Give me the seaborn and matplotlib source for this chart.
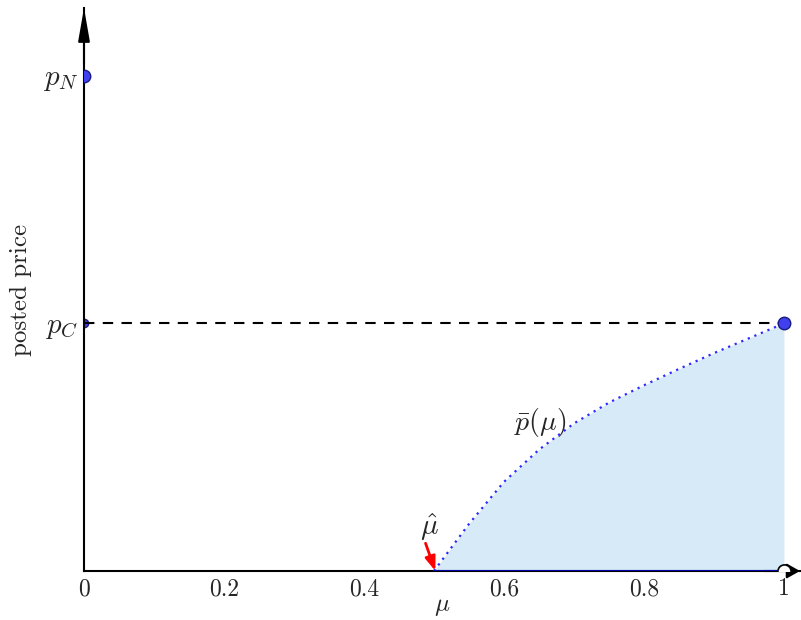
import matplotlib
matplotlib.use("Agg")
import matplotlib.pyplot as plt
import seaborn as sns
import pandas as pd

# --- datos ---
mu_curve = [0.50, 0.55, 0.60, 0.65, 0.70, 0.75, 0.80, 0.85, 0.90, 0.95, 1.00]
p_curve = [0.0, 0.095, 0.18, 0.245, 0.298, 0.34, 0.375, 0.408, 0.44, 0.47, 0.50]
p_N = 1.0
p_C = 0.5
mu_hat = 0.5
x_ticks = [0, 0.2, 0.4, 0.6, 0.8, 1]
x_ticklabels = ["0", "0.2", "0.4", "0.6", "0.8", "1"]

curve = pd.DataFrame({"mu": mu_curve, "p": p_curve})

sns.set_style("white")
plt.rcParams["font.family"] = ["cmr10", "DejaVu Serif"]
plt.rcParams["mathtext.fontset"] = "cm"
plt.rcParams["axes.formatter.use_mathtext"] = True

fig = plt.figure(figsize=(8.01, 6.2), dpi=100)
ax = fig.add_axes([84 / 801, 49 / 620, 716 / 801, 563 / 620])

# zona sombreada bajo la curva
ax.fill_between(curve["mu"], 0, curve["p"], color="#d6eaf7", lw=0, zorder=1)

# curva p-bar (punteada)
sns.lineplot(data=curve, x="mu", y="p", ax=ax, color="#2b2bff", lw=1.6,
             linestyle=(0, (1, 2.2)), zorder=3)

# linea discontinua en p_C
ax.plot([0, 1], [p_C, p_C], color="black", lw=1.5, ls=(0, (5, 4)), zorder=2)

# tramo azul sobre el eje
ax.plot([mu_hat, 1], [0, 0], color="#0000aa", lw=2.2, zorder=4)

# puntos (recortados en el borde de los ejes)
ax.plot([0], [p_C], "o", ms=6, color="#4040ee", mec="#1a1a80", mew=1,
        zorder=1.5, clip_on=True)
ax.plot([0, 1], [p_N, p_C], "o", ms=9, color="#4040ee", mec="#1a1a80",
        mew=1, ls="none", zorder=5, clip_on=True)
ax.plot([1], [0], "o", ms=9.5, mfc="white", mec="black", mew=1.2,
        zorder=6, clip_on=True)

# flecha roja mu-hat
ax.annotate("", xy=(mu_hat + 0.002, 0.0), xytext=(0.488, 0.056),
            arrowprops=dict(arrowstyle="-|>,head_length=0.6,head_width=0.22",
                            color="red", lw=2, mutation_scale=14,
                            shrinkA=0, shrinkB=0),
            zorder=7)
ax.text(0.494, 0.056, r"$\hat{\mu}$", fontsize=21, ha="center", va="bottom")
ax.text(0.652, 0.30, r"$\bar{p}(\mu)$", fontsize=20, ha="center", va="center")

ax.set_xlim(0, 1.023)
ax.set_ylim(0, 1.137)

ax.set_xticks(x_ticks)
ax.set_xticklabels(x_ticklabels, fontsize=17)
ax.set_yticks([p_C, p_N])
ax.set_yticklabels([r"$p_C$", r"$p_N$"], fontsize=21)
ax.tick_params(axis="x", direction="in", length=5, width=0.8, pad=5)
ax.tick_params(axis="y", length=0, pad=4)

ax.set_xlabel(r"$\mu$", fontsize=18, labelpad=-3)
ax.set_ylabel("posted price", fontsize=18, labelpad=8)

for s in ["top", "right"]:
    ax.spines[s].set_visible(False)
for s in ["left", "bottom"]:
    ax.spines[s].set_linewidth(1.5)
    ax.spines[s].set_color("black")

# flechas de los ejes
ax.annotate("", xy=(0, 1), xytext=(0, 0.9), xycoords="axes fraction",
            arrowprops=dict(arrowstyle="-|>,head_length=2.0,head_width=0.35",
                            color="black", lw=1.5, shrinkA=0, shrinkB=0),
            annotation_clip=False)
ax.annotate("", xy=(1, 0), xytext=(0.95, 0), xycoords="axes fraction",
            arrowprops=dict(arrowstyle="-|>,head_length=0.8,head_width=0.45",
                            color="black", lw=1.5, shrinkA=0, shrinkB=0),
            annotation_clip=False)

fig.savefig("out.png", dpi=100)
